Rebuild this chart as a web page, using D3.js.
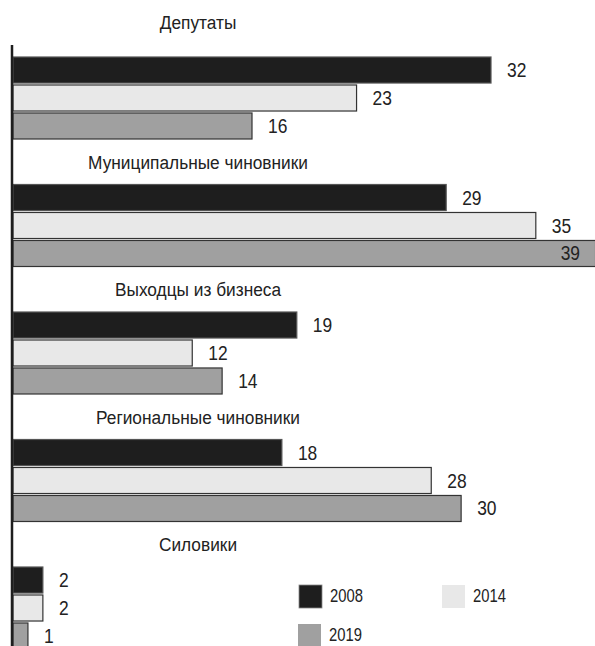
<!DOCTYPE html>
<html><head><meta charset="utf-8">
<script src="https://cdn.jsdelivr.net/npm/d3@7"></script>
<style>body{margin:0;background:#fff}svg{display:block}</style>
</head><body>
<script>
const categories = ["Депутаты","Муниципальные чиновники","Выходцы из бизнеса","Региональные чиновники","Силовики"];
const seriesNames = ["2008","2014","2019"];
const values2008 = [32,29,19,18,2];
const values2014 = [23,35,12,28,2];
const values2019 = [16,39,14,30,1];
const seriesValues = [values2008, values2014, values2019];

const W = 595, H = 646;
const fills = ["#1e1e1e","#e8e8e8","#a0a0a0"];
const strokes = ["#555","#333","#333"];
const font = "'Liberation Sans',Arial,sans-serif";

const svg = d3.select("body").append("svg").attr("width",W).attr("height",H);

function addText(x, y, str, size, sx, anchor) {
  svg.append("g").attr("transform", `translate(${x},${y}) scale(${sx},1)`)
    .append("text").attr("dy","0.35em").attr("text-anchor", anchor)
    .attr("font-family", font).attr("font-size", size).attr("fill", "#222").text(str);
}

const x = d3.scaleLinear().domain([0,32]).range([13,491]);
const gy = d3.scaleBand().domain(categories).range([57, 57+127.5*5]).paddingInner(0);
const sy = d3.scaleBand().domain(seriesNames).range([0,82]).paddingInner(0.07);

categories.forEach((c,i)=>{
  const top = gy(c);
  addText(198, top - (i===0?35:22.5), c, 19, 0.91, "middle");
  seriesNames.forEach((s,j)=>{
    const v = seriesValues[j][i];
    const y = top + sy(s);
    svg.append("rect").attr("x",x(0)).attr("y",y).attr("width",x(v)-x(0)).attr("height",sy.bandwidth())
      .attr("fill",fills[j]).attr("stroke",strokes[j]).attr("stroke-width",1.2);
    let lx = x(v)+16, anchor="start";
    if (lx+20 > W) { lx = W-15; anchor="end"; }
    addText(lx, y+sy.bandwidth()/2, String(v), 20, 0.87, anchor);
  });
});

// axis line
svg.append("line").attr("x1",12).attr("x2",12).attr("y1",45).attr("y2",H).attr("stroke","#1e1e1e").attr("stroke-width",2.5);

// legend
const legendPos = [[299,585],[442,585],[298,624]];
seriesNames.forEach((s,j)=>{
  const [lx,ly] = legendPos[j];
  svg.append("rect").attr("x",lx).attr("y",ly).attr("width",23).attr("height",23).attr("fill",fills[j])
    .attr("stroke", j===0?"#888":"none").attr("stroke-width",0.8);
  addText(lx+31, ly+11, s, 18.5, 0.8, "start");
});
</script>
</body></html>
